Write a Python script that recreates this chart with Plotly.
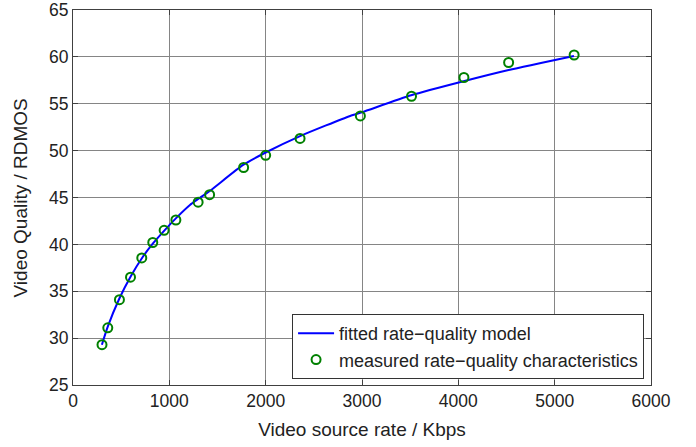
import plotly.graph_objects as go

# Measured rate-quality characteristics
measured_rate = [301, 361, 482, 597, 714, 828, 946, 1068, 1299, 1418, 1771, 2000,
                 2357, 2983, 3514, 4058, 4522, 5202]
measured_quality = [29.3, 31.1, 34.1, 36.5, 38.55, 40.2, 41.5, 42.6, 44.5, 45.3, 48.2, 49.5,
                    51.3, 53.7, 55.8, 57.8, 59.4, 60.2]

# Fitted rate-quality model
fit_rate = [300, 360, 480, 600, 720, 830, 950, 1070, 1214, 1300, 1420, 1770, 2000,
            2357, 2877, 3000, 3510, 4054, 4522, 5200]
fit_quality = [29.3, 31.2, 34.2, 36.6, 38.6, 40.1, 41.5, 42.8, 44.2, 44.85, 45.7, 48.5, 49.8,
               51.55, 53.7, 54.1, 55.9, 57.4, 58.6, 60.1]

x_ticks = [0, 1000, 2000, 3000, 4000, 5000, 6000]
y_ticks = [25, 30, 35, 40, 45, 50, 55, 60, 65]

x_title = "Video source rate / Kbps"
y_title = "Video Quality / RDMOS"

font_family = "Liberation Sans, Arial, sans-serif"
text_color = "#222222"

fig = go.Figure()
fig.add_trace(go.Scatter(
    x=fit_rate, y=fit_quality, mode="lines",
    line=dict(color="#0000ff", width=2, shape="spline", smoothing=0.6),
    name="fitted rate\u2212quality model",
))
fig.add_trace(go.Scatter(
    x=measured_rate, y=measured_quality, mode="markers",
    marker=dict(symbol="circle-open", size=9, color="#008000", line=dict(width=2, color="#008000")),
    name="measured rate\u2212quality characteristics",
))

axis_common = dict(
    showgrid=True, gridcolor="#858585", gridwidth=1,
    showline=True, linecolor="#404040", linewidth=1, mirror="ticks",
    ticks="inside", ticklen=5, tickcolor="#404040",
    zeroline=False, automargin=False, ticklabeloverflow="allow",
    tickfont=dict(family=font_family, size=17.5, color=text_color),
)

fig.update_xaxes(
    range=[0, 6000], tickvals=x_ticks, ticktext=[str(v) for v in x_ticks],
    title=dict(text=x_title, font=dict(family=font_family, size=19, color=text_color), standoff=12),
    **axis_common,
)
fig.update_yaxes(
    range=[25, 65], tickvals=y_ticks, ticktext=[str(v) for v in y_ticks],
    **axis_common,
)

fig.add_annotation(
    text=y_title, xref="paper", yref="paper", x=-0.09, y=0.5,
    xanchor="center", yanchor="middle", textangle=-90, showarrow=False,
    font=dict(family=font_family, size=19, color=text_color),
)

fig.update_layout(
    width=696, height=447,
    margin=dict(l=73, r=45, t=10, b=62),
    plot_bgcolor="white", paper_bgcolor="white",
    legend=dict(
        x=0.988, y=0.016, xanchor="right", yanchor="bottom",
        bgcolor="white", bordercolor="#333333", borderwidth=1,
        font=dict(family=font_family, size=18, color=text_color),
        tracegroupgap=0, itemwidth=36,
    ),
    showlegend=True,
)

fig.write_html(
    "out.html",
    config={"displayModeBar": False},
    post_script="document.body.style.margin='0';document.body.style.overflow='hidden';",
)
